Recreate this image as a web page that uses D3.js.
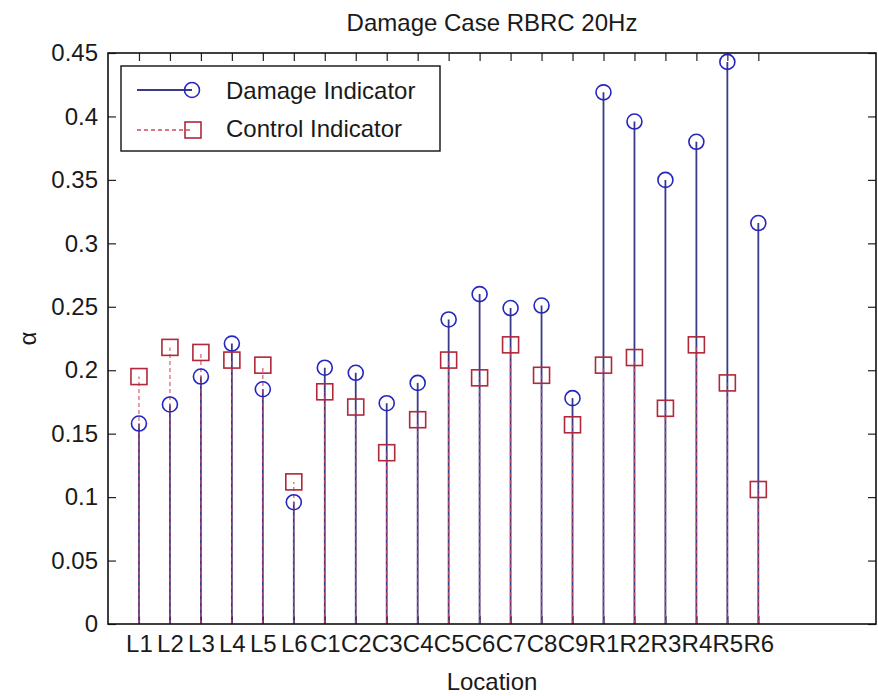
<!DOCTYPE html>
<html>
<head>
<meta charset="utf-8">
<script src="https://cdn.jsdelivr.net/npm/d3@7/dist/d3.min.js"></script>
<style>
  html, body { margin: 0; padding: 0; background: #fff; }
  svg { display: block; }
  text { font-family: "Liberation Sans", Arial, sans-serif; fill: #1a1a1a; }
</style>
</head>
<body>
<svg id="chart" width="878" height="696"></svg>
<script>
// ---- data ----
const categories = ["L1","L2","L3","L4","L5","L6","C1","C2","C3","C4","C5","C6","C7","C8","C9","R1","R2","R3","R4","R5","R6"];
const damageIndicator = [0.158,0.173,0.195,0.221,0.185,0.096,0.202,0.198,0.174,0.190,0.240,0.260,0.249,0.251,0.178,0.419,0.396,0.350,0.380,0.443,0.316];
const controlIndicator = [0.195,0.218,0.214,0.208,0.204,0.112,0.183,0.171,0.135,0.161,0.208,0.194,0.220,0.196,0.157,0.204,0.210,0.170,0.220,0.190,0.106];
const yTicks = [0,0.05,0.1,0.15,0.2,0.25,0.3,0.35,0.4,0.45];
const titleText = "Damage Case RBRC 20Hz";
const xLabel = "Location";
const yLabel = "\u03B1";
const legendLabels = ["Damage Indicator","Control Indicator"];

// ---- layout ----
const svg = d3.select("#chart");
const pLeft = 108, pRight = 876, pTop = 53, pBottom = 624;
const x = d3.scaleLinear().domain([0, 24.8]).range([pLeft, pRight]);
const y = d3.scaleLinear().domain([0, 0.45]).range([pBottom, pTop]);

const blueStem = "#3a3a8a", blueMark = "#2525c0";
const redStem = "#d2485a", redMark = "#b0283a";
const fs = 24;

// title
svg.append("text").attr("x", (pLeft + pRight) / 2).attr("y", 31)
  .attr("text-anchor", "middle").style("font-size", fs + "px").text(titleText);

// axes
const fmt = d => String(+d.toFixed(2));
const idx = categories.map((c, i) => i + 1);

const gx = svg.append("g").attr("transform", `translate(0,${pBottom})`)
  .call(d3.axisBottom(x).tickValues(idx).tickFormat(d => categories[d - 1])
    .tickSizeInner(-8).tickSizeOuter(0).tickPadding(11));
const gxTop = svg.append("g").attr("transform", `translate(0,${pTop})`)
  .call(d3.axisTop(x).tickValues(idx).tickFormat("")
    .tickSizeInner(-8).tickSizeOuter(0));
const gy = svg.append("g").attr("transform", `translate(${pLeft},0)`)
  .call(d3.axisLeft(y).tickValues(yTicks).tickFormat(fmt)
    .tickSizeInner(-8).tickSizeOuter(0).tickPadding(10));
const gyR = svg.append("g").attr("transform", `translate(${pRight},0)`)
  .call(d3.axisRight(y).tickValues(yTicks).tickFormat("")
    .tickSizeInner(-8).tickSizeOuter(0));

[gx, gxTop, gy, gyR].forEach(g => {
  g.select(".domain").remove();
  g.selectAll(".tick line").attr("stroke", "#222").attr("stroke-width", 1.2);
  g.selectAll(".tick text").style("font-size", fs + "px")
    .style("font-family", "'Liberation Sans', Arial, sans-serif").attr("fill", "#1a1a1a");
});

// axis labels
svg.append("text").attr("x", (pLeft + pRight) / 2).attr("y", 690)
  .attr("text-anchor", "middle").style("font-size", fs + "px").text(xLabel);
svg.append("text").attr("transform", `translate(36,${(pTop + pBottom) / 2}) rotate(-90)`)
  .attr("text-anchor", "middle").style("font-size", fs + "px").text(yLabel);

// stems
const plot = svg.append("g");
plot.selectAll("line.dstem").data(damageIndicator).join("line")
  .attr("class", "dstem")
  .attr("x1", (d, i) => x(i + 1)).attr("x2", (d, i) => x(i + 1))
  .attr("y1", y(0)).attr("y2", d => y(d))
  .attr("stroke", blueStem).attr("stroke-width", 1.8);
plot.selectAll("line.cstem").data(controlIndicator).join("line")
  .attr("class", "cstem")
  .attr("x1", (d, i) => x(i + 1)).attr("x2", (d, i) => x(i + 1))
  .attr("y1", y(0)).attr("y2", d => y(d))
  .attr("stroke", redStem).attr("stroke-width", 1.4)
  .attr("stroke-dasharray", "4,3").attr("opacity", 0.75);

// markers
plot.selectAll("circle.dm").data(damageIndicator).join("circle")
  .attr("class", "dm")
  .attr("cx", (d, i) => x(i + 1)).attr("cy", d => y(d)).attr("r", 7.5)
  .attr("fill", "none").attr("stroke", blueMark).attr("stroke-width", 1.6);
const sq = 16;
plot.selectAll("rect.cm").data(controlIndicator).join("rect")
  .attr("class", "cm")
  .attr("x", (d, i) => x(i + 1) - sq / 2).attr("y", d => y(d) - sq / 2)
  .attr("width", sq).attr("height", sq)
  .attr("fill", "none").attr("stroke", redMark).attr("stroke-width", 1.6);

// box
svg.append("rect").attr("x", pLeft).attr("y", pTop)
  .attr("width", pRight - pLeft).attr("height", pBottom - pTop)
  .attr("fill", "none").attr("stroke", "#111").attr("stroke-width", 1.6);

// legend
const lg = svg.append("g");
lg.append("rect").attr("x", 121).attr("y", 66).attr("width", 319).attr("height", 85)
  .attr("fill", "#fff").attr("stroke", "#111").attr("stroke-width", 1.4);
lg.append("line").attr("x1", 137).attr("x2", 192).attr("y1", 90).attr("y2", 90)
  .attr("stroke", blueStem).attr("stroke-width", 1.8);
lg.append("circle").attr("cx", 192).attr("cy", 90).attr("r", 7.5)
  .attr("fill", "none").attr("stroke", blueMark).attr("stroke-width", 1.6);
lg.append("line").attr("x1", 137).attr("x2", 192).attr("y1", 130).attr("y2", 130)
  .attr("stroke", redStem).attr("stroke-width", 1.4).attr("stroke-dasharray", "4,3");
lg.append("rect").attr("x", 193 - sq / 2).attr("y", 130 - sq / 2).attr("width", sq).attr("height", sq)
  .attr("fill", "none").attr("stroke", redMark).attr("stroke-width", 1.6);
lg.append("text").attr("x", 226).attr("y", 99).style("font-size", fs + "px").text(legendLabels[0]);
lg.append("text").attr("x", 226).attr("y", 137).style("font-size", fs + "px").text(legendLabels[1]);
</script>
</body>
</html>
